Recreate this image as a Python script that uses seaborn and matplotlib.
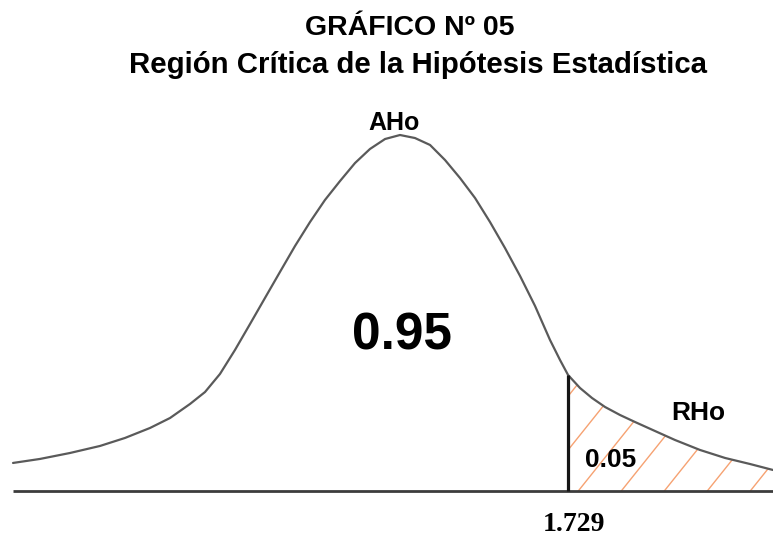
import matplotlib
matplotlib.use('Agg')
import matplotlib.pyplot as plt
import seaborn as sns
import numpy as np

# --- DATA ---
# t value on the horizontal axis, relative height of the curve
T_VALUES = [-3.981, -3.704, -3.395, -3.086, -2.829, -2.572, -2.366, -2.160,
            -2.006, -1.852, -1.698, -1.543, -1.389, -1.235, -1.080, -0.926,
            -0.772, -0.617, -0.463, -0.309, -0.154, 0.000,
            0.154, 0.309, 0.463, 0.617, 0.772, 0.926, 1.080, 1.235, 1.389,
            1.543, 1.646, 1.729, 1.852, 1.975, 2.109, 2.263, 2.418, 2.623,
            2.829, 3.086, 3.344, 3.601, 3.837]
DENSITY = [0.0315, 0.0360, 0.0427, 0.0506, 0.0596, 0.0708, 0.0820, 0.0978,
           0.1112, 0.1315, 0.1584, 0.1876, 0.2169, 0.2461, 0.2753, 0.3022,
           0.3270, 0.3483, 0.3685, 0.3843, 0.3955, 0.4000,
           0.3966, 0.3888, 0.3719, 0.3517, 0.3292, 0.3022, 0.2730, 0.2416, 0.2079,
           0.1697, 0.1472, 0.1303, 0.1157, 0.1045, 0.0944, 0.0854, 0.0775, 0.0674,
           0.0573, 0.0461, 0.0371, 0.0303, 0.0236]
T_CRIT = 1.729
AREA_ACCEPT = "0.95"
AREA_REJECT = "0.05"
LABEL_ACCEPT = "AHo"
LABEL_REJECT = "RHo"
TITLE_1 = "GRÁFICO Nº 05"
TITLE_2 = "Región Crítica de la Hipótesis Estadística"

W, H = 773, 537
sns.set_theme(style='white')
plt.rcParams['font.family'] = ['Liberation Sans', 'DejaVu Sans']

fig = plt.figure(figsize=(W / 100, H / 100), dpi=100)
ax = fig.add_axes([0, 0, 1, 1])
ax.set_axis_off()
ax.set_xlim(-4.115, 3.837)
ax.set_ylim(-0.0517, 0.5517)

t = np.array(T_VALUES)
d = np.array(DENSITY)

# baseline and curve
ax.hlines(0, t[0], 3.837, color='#3c3c3c', lw=2.0, zorder=2)
sns.lineplot(x=t, y=d, ax=ax, color='#5a5a5a', lw=1.6, zorder=3,
             solid_joinstyle='round')

# critical value line
d_crit = d[np.argmin(np.abs(t - T_CRIT))]
ax.vlines(T_CRIT, 0, d_crit, color='#151515', lw=2.3, zorder=4)

# rejection region with sparse orange hatching
tail = t >= T_CRIT
poly = ax.fill_between(t[tail], 0, d[tail], facecolor='none', edgecolor='none')
clip = poly.get_paths()[0]
slope = 1.25 * 97.2 / 890  # screen slope converted to data units
for x0 in np.arange(T_CRIT - 0.9, 4.2, 43 / 97.2) + 0.12:
    ln, = ax.plot([x0, x0 + 0.3 / slope], [0, 0.3], color='#f6a272', lw=1.0, zorder=1)
    ln.set_clip_path(clip, ax.transData)

# texts, positioned in figure pixels
def put(x, y, s, size, family=None):
    kw = dict(ha='center', va='baseline', fontsize=size, fontweight='bold', color='black')
    if family:
        kw['family'] = family
    fig.text(x / W, 1 - y / H, s, **kw)

put(410, 35, TITLE_1, 20.5)
put(418, 73, TITLE_2, 21.2)
put(394, 130, LABEL_ACCEPT, 18)
put(402, 349, AREA_ACCEPT, 37)
put(698, 420, LABEL_REJECT, 19)
put(611, 467, AREA_REJECT, 19)
put(574, 531, str(T_CRIT), 20, family=['Liberation Serif', 'DejaVu Serif'])

fig.savefig('out.png', dpi=100)
plt.close(fig)
